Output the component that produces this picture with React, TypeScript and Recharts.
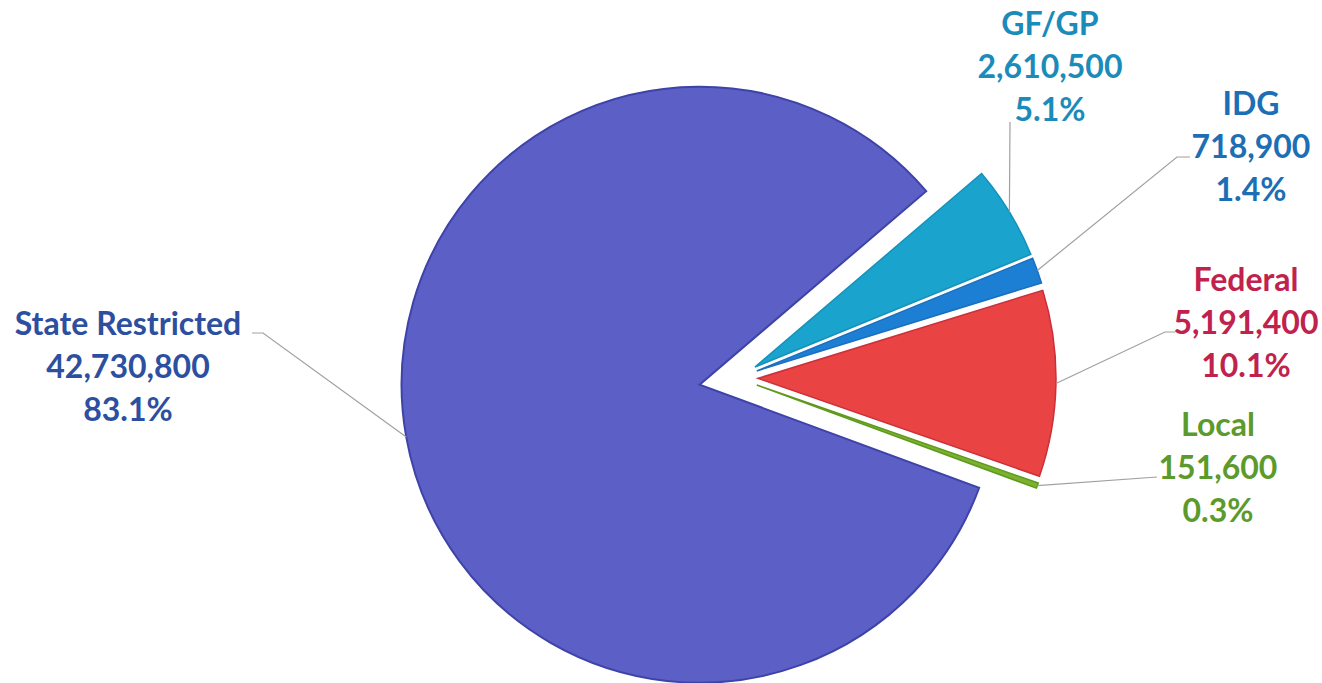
import { PieChart, Pie, Cell } from 'recharts'

// budget sources, clockwise from the top-right edge
const names = ['GF/GP', 'IDG', 'Federal', 'Local', 'State Restricted']
const values = [2610500, 718900, 5191400, 151600, 42730800]

const sliceColors = ['#1AA3CD', '#1D7FD4', '#E94343', '#7BB12E', '#5B5FC6']
const edgeColors = ['#1592BA', '#1A6FBF', '#C9303A', '#5F9A1E', '#3E43A8']
const textColors = ['#1B8BBA', '#1C6FB5', '#C0224D', '#5B9A2B', '#2D4FA0']

const data = names.map((name, i) => ({ name, value: values[i] }))

const START = 40.5
const CENTER = { x: 737, y: 378 }
const RADIUS = 298
const EXPLODE = [21, 21, 21, 21, 38]

// label box (center x, first line center y) and leader-line bends
const labelPos = [
  { x: 1050, y: 23, bends: [[1010, 122]] },
  { x: 1251, y: 103, bends: [[1177, 157], [1190, 157]] },
  { x: 1246, y: 279, bends: [[1165, 332], [1175, 332]] },
  { x: 1218, y: 424, bends: [[1157, 477]] },
  { x: 128, y: 323, bends: [[263, 333], [252, 333]] },
]

const RADIAN = Math.PI / 180
const FONT = 32
const GAP = 43

const total = values.reduce((a, b) => a + b, 0)
const midAngles: number[] = []
let acc = START
values.forEach((v) => {
  const a = (v / total) * 360
  midAngles.push(acc - a / 2)
  acc -= a
})

const renderLabel = (own: number) => (props: any) => {
  const { cx, cy, midAngle, outerRadius, percent, index, value, name } = props
  if (index !== own) return null
  const sx = cx + outerRadius * Math.cos(-midAngle * RADIAN)
  const sy = cy + outerRadius * Math.sin(-midAngle * RADIAN)
  const pos = labelPos[own]
  const d = `M${sx},${sy}` + pos.bends.map(([x, y]) => `L${x},${y}`).join('')
  const lines = [name, Number(value).toLocaleString('en-US'), `${(percent * 100).toFixed(1)}%`]
  return (
    <g>
      <path d={d} stroke="#A0A0A0" strokeWidth={1.2} fill="none" />
      {lines.map((t, k) => (
        <text
          key={k}
          x={pos.x}
          y={pos.y + k * GAP + FONT * 0.36}
          textAnchor="middle"
          fill={textColors[own]}
          fontSize={FONT}
          fontWeight={700}
          fontFamily="Lato, 'Open Sans', sans-serif"
        >
          {t}
        </text>
      ))}
    </g>
  )
}

// one pie per slice so each can be pulled out on its own
const order = [4, 0, 1, 2, 3]

export default function App() {
  return (
    <div style={{ position: 'absolute', left: 0, top: 0, width: 1322, height: 683, background: '#fff' }}>
      <PieChart width={1322} height={683} margin={{ top: 0, right: 0, bottom: 0, left: 0 }}>
        {order.map((j) => (
          <Pie
            key={j}
            data={data}
            dataKey="value"
            nameKey="name"
            cx={CENTER.x + EXPLODE[j] * Math.cos(midAngles[j] * RADIAN)}
            cy={CENTER.y - EXPLODE[j] * Math.sin(midAngles[j] * RADIAN)}
            innerRadius={0}
            outerRadius={RADIUS}
            startAngle={START}
            endAngle={START - 360}
            labelLine={false}
            label={renderLabel(j)}
            isAnimationActive={false}
          >
            {data.map((entry, i) => (
              <Cell
                key={`cell-${i}`}
                fill={i === j ? sliceColors[i] : 'none'}
                stroke={i === j ? edgeColors[i] : 'none'}
                strokeWidth={i === 4 ? 2 : 1.5}
              />
            ))}
          </Pie>
        ))}
      </PieChart>
    </div>
  )
}
